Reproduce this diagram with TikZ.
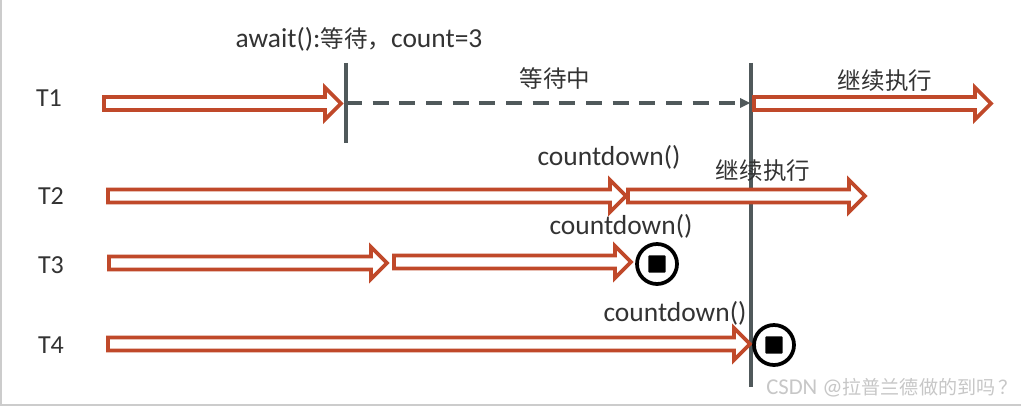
\documentclass[tikz,border=0pt]{standalone}
\usepackage{fontspec}
\setmainfont{Carlito}
\newfontfamily\cjk{Noto Sans CJK SC}[Scale=0.98]
\newcommand{\widelatin}{\fontsize{20.6pt}{22pt}\selectfont}
\newcommand{\plainsize}{\fontsize{18pt}{20pt}\selectfont}
\definecolor{arrowred}{HTML}{C0492A}
\definecolor{slateline}{HTML}{50595B}
\definecolor{inktext}{HTML}{333333}
\tikzset{
  x=0.75pt,y=-0.75pt,
  label/.style={font=\fontsize{19.5pt}{20pt}\selectfont,text=inktext,inner sep=0pt,anchor=center},
  hollow/.style={draw=arrowred,line width=2.8pt,fill=white,line join=miter,miter limit=4},
  bar/.style={draw=slateline,line width=2.4pt},
  waitline/.style={draw=slateline,line width=2.4pt,dash pattern=on 12pt off 8pt},
  stopring/.style={circle,draw=black,line width=2.8pt,fill=white,minimum size=30pt,inner sep=0pt},
  stopsquare/.style={fill=black,rounded corners=0.6pt,minimum size=12.8pt,inner sep=0pt},
}
% #1 start coordinate name, #2 end coordinate name
\newcommand{\hollowarrow}[2]{%
  \draw[hollow] ($(#1)+(0,-6.5)$) -- ($(#2)+(-16,-6.5)$) -- ($(#2)+(-16,-16)$) -- (#2)
    -- ($(#2)+(-16,16)$) -- ($(#2)+(-16,6.5)$) -- ($(#1)+(0,6.5)$) -- cycle;}
\usetikzlibrary{calc,arrows.meta}
\begin{document}
\begin{tikzpicture}
\useasboundingbox (0,0) rectangle (1021,406);
\fill[white] (0,0) rectangle (1021,406);
\fill[black!20] (0,0) rectangle (2,406);
\fill[black!20] (0,404) rectangle (1021,406);

\coordinate (barAtop) at (346,63);
\coordinate (barAbot) at (346,143);
\coordinate (barBtop) at (751,63);
\coordinate (barBbot) at (751,387);
\coordinate (waitStart) at (346,103);
\coordinate (waitEnd) at (751,103);

\coordinate (a1s) at (104,103.5); \coordinate (a1e) at (341,103.5);
\coordinate (a2s) at (754,103.5); \coordinate (a2e) at (991,103.5);
\coordinate (b1s) at (108,196);   \coordinate (b1e) at (626,196);
\coordinate (b2s) at (628,196);   \coordinate (b2e) at (865,196);
\coordinate (c1s) at (109,263); \coordinate (c1e) at (387,263);
\coordinate (c2s) at (394,262);   \coordinate (c2e) at (631,262);
\coordinate (d1s) at (108,344);   \coordinate (d1e) at (750,344);

\draw[bar] (barBtop) -- (barBbot);
\hollowarrow{a1s}{a1e}
\hollowarrow{a2s}{a2e}
\hollowarrow{b1s}{b1e}
\hollowarrow{b2s}{b2e}
\hollowarrow{c1s}{c1e}
\hollowarrow{c2s}{c2e}
\hollowarrow{d1s}{d1e}
\draw[bar] (barAtop) -- (barAbot);
\draw[waitline] (waitStart) -- ($(waitEnd)+(-10,0)$);
\fill[slateline] ($(waitEnd)+(-11,-5)$) -- ($(waitEnd)+(-1,0)$) -- ($(waitEnd)+(-11,5)$) -- cycle;

\node[stopring] (ringA) at (657,264) {};
\node[stopsquare] (sqA) at (ringA.center) {};
\node[stopring] (ringB) at (774,345) {};
\node[stopsquare] (sqB) at (ringB.center) {};

\node[label] (t1) at (49,98) {T1};
\node[label] (t2) at (51,196) {T2};
\node[label] (t3) at (51,265) {T3};
\node[label] (t4) at (51,345) {T4};
\node[label] (await) at (359,39) {\widelatin await():{\plainsize\cjk 等待，}count=3};
\node[label] (waiting) at (555,78) {\plainsize\cjk 等待中};
\node[label] (go1) at (885,81) {\plainsize\cjk 继续执行};
\node[label] (go2) at (763,171) {\plainsize\cjk 继续执行};
\node[label] (cd1) at (609,157) {\widelatin countdown()};
\node[label] (cd2) at (621,226) {\widelatin countdown()};
\node[label] (cd3) at (675,313) {\widelatin countdown()};
\node[font=\fontsize{17pt}{17pt}\selectfont,text=black!22,inner sep=0pt,anchor=west] (mark) at (766,388) {CSDN @{\fontsize{14.6pt}{17pt}\selectfont\cjk 拉普兰德做的到吗\hspace{2pt}？}};
\end{tikzpicture}
\end{document}
